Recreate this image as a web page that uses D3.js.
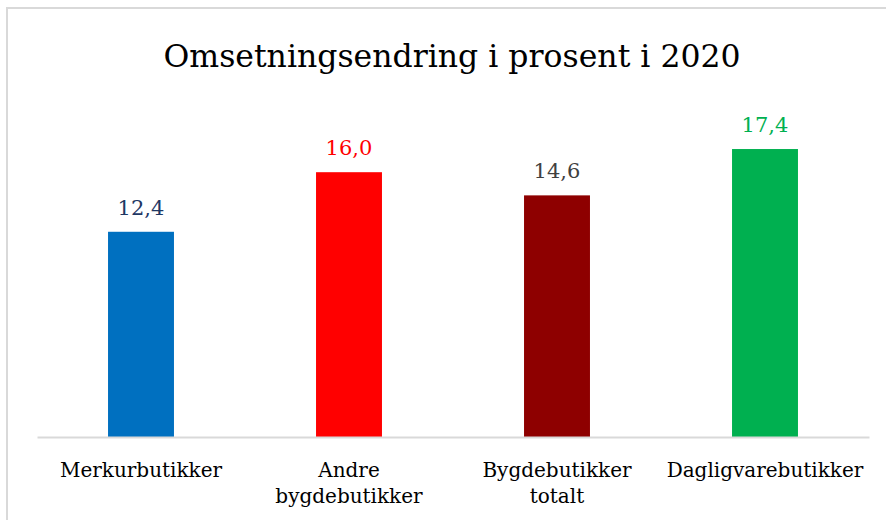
<!DOCTYPE html>
<html>
<head>
<meta charset="utf-8">
<script src="https://cdn.jsdelivr.net/npm/d3@7"></script>
<style>
  html, body { margin: 0; padding: 0; background: #fff; }
  svg { display: block; }
</style>
</head>
<body>
<svg id="chart" width="886" height="520"></svg>
<script>
const title = "Omsetningsendring i prosent i 2020";
const categories = [["Merkurbutikker"], ["Andre", "bygdebutikker"], ["Bygdebutikker", "totalt"], ["Dagligvarebutikker"]];
const values = [12.4, 16.0, 14.6, 17.4];
const barColors = ["#0070C0", "#FF0000", "#8E0000", "#00B050"];
const labelColors = ["#1F3864", "#FF0000", "#404040", "#00B050"];

const W = 886, H = 520;
const margin = { left: 37, right: 17, top: 106, bottom: 83 };
const svg = d3.select("#chart");
const font = "'DejaVu Serif', serif";

svg.append("rect").attr("width", W).attr("height", H).attr("fill", "#fff");
// chart border
svg.append("rect")
  .attr("x", 7).attr("y", 8)
  .attr("width", W).attr("height", H)
  .attr("fill", "none").attr("stroke", "#d9d9d9").attr("stroke-width", 2);

const keys = categories.map(c => c.join(" "));
const x = d3.scaleBand().domain(keys)
  .range([margin.left, W - margin.right])
  .paddingInner(0.683).paddingOuter(0.683 / 2);
const y = d3.scaleLinear().domain([0, 20]).range([H - margin.bottom, margin.top]);

svg.append("text")
  .attr("x", 452).attr("y", 67)
  .attr("text-anchor", "middle")
  .attr("font-family", font).attr("font-size", 31.5)
  .attr("fill", "#000")
  .text(title);

svg.selectAll("rect.bar").data(values).join("rect")
  .attr("class", "bar")
  .attr("x", (d, i) => x(keys[i]))
  .attr("y", d => y(d))
  .attr("width", x.bandwidth())
  .attr("height", d => y(0) - y(d))
  .attr("fill", (d, i) => barColors[i]);

svg.selectAll("text.val").data(values).join("text")
  .attr("class", "val")
  .attr("x", (d, i) => x(keys[i]) + x.bandwidth() / 2)
  .attr("y", d => y(d) - 17)
  .attr("text-anchor", "middle")
  .attr("font-family", font).attr("font-size", 21)
  .attr("fill", (d, i) => labelColors[i])
  .text(d => d3.format(".1f")(d).replace(".", ","));

// baseline axis
const xAxis = d3.axisBottom(x).tickSize(0).tickFormat("");
const ax = svg.append("g").attr("transform", `translate(0,${y(0)})`).call(xAxis);
ax.select(".domain").attr("stroke", "#d9d9d9").attr("stroke-width", 2);

const cat = svg.selectAll("text.cat").data(categories).join("text")
  .attr("class", "cat")
  .attr("text-anchor", "middle")
  .attr("font-family", font).attr("font-size", 20)
  .attr("fill", "#000");
cat.each(function(lines, i) {
  const t = d3.select(this);
  lines.forEach((ln, j) => {
    t.append("tspan")
      .attr("x", x(keys[i]) + x.bandwidth() / 2)
      .attr("y", 477 + j * 26)
      .text(ln);
  });
});
</script>
</body>
</html>
